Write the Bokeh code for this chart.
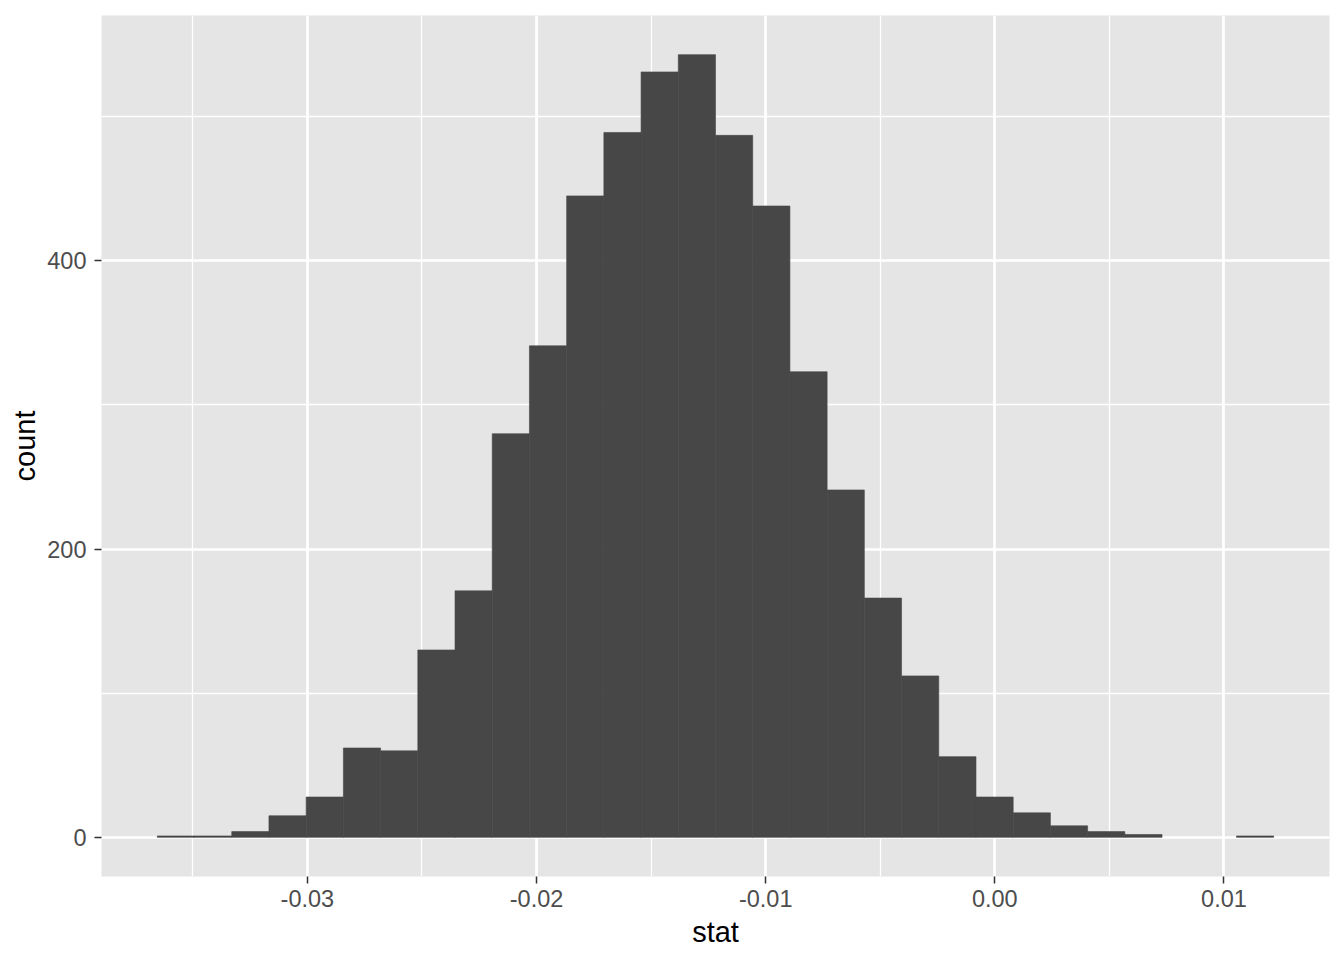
import numpy as np
from bokeh.plotting import figure
from bokeh.models import FixedTicker, Range1d, ColumnDataSource
from bokeh.embed import file_html
from bokeh.resources import INLINE

# Histogram data (30 bins)
bin_start = -0.03655
bin_width = 0.001624
counts = [1, 1, 4, 15, 28, 62, 60, 130, 171, 280,
          341, 445, 489, 531, 543, 487, 438, 323, 241, 166,
          112, 56, 28, 17, 8, 4, 2, 0, 0, 1]

x_ticks = [-0.03, -0.02, -0.01, 0.00, 0.01]
x_tick_labels = ["-0.03", "-0.02", "-0.01", "0.00", "0.01"]
x_minor = [-0.035, -0.025, -0.015, -0.005, 0.005]
y_ticks = [0, 200, 400]
y_minor = [100, 300, 500]

edges = bin_start + bin_width * np.arange(len(counts) + 1)
src = ColumnDataSource(dict(left=edges[:-1], right=edges[1:], top=counts,
                            bottom=[0] * len(counts),
                            lalpha=[1.0 if c > 0 else 0.0 for c in counts]))

xmin, xmax = edges[0], edges[-1]
xpad = (xmax - xmin) * 0.05
ymax = max(counts)
ypad = ymax * 0.05

p = figure(width=1344, height=960, output_backend="svg", toolbar_location=None,
           x_range=Range1d(xmin - xpad, xmax + xpad),
           y_range=Range1d(-ypad, ymax + ypad),
           min_border_left=101, min_border_right=15, min_border_top=15,
           min_border_bottom=84)

p.background_fill_color = "#E5E5E5"
p.border_fill_color = "white"
p.outline_line_color = None

p.quad(left="left", right="right", top="top", bottom="bottom", source=src,
       fill_color="#474747", line_color="#474747", line_width=0.6,
       line_alpha="lalpha")

p.xaxis.ticker = FixedTicker(ticks=x_ticks, minor_ticks=x_minor)
p.xaxis.major_label_overrides = {t: l for t, l in zip(x_ticks, x_tick_labels)}
p.yaxis.ticker = FixedTicker(ticks=y_ticks, minor_ticks=y_minor)

for ax in (p.xaxis[0], p.yaxis[0]):
    ax.axis_line_color = None
    ax.major_tick_in = 0
    ax.major_tick_out = 7
    ax.major_tick_line_color = "#333333"
    ax.major_tick_line_width = 1.5
    ax.minor_tick_line_color = None
    ax.major_label_text_font = "Liberation Sans"
    ax.major_label_text_font_size = "23.5px"
    ax.major_label_text_color = "#4D4D4D"
    ax.axis_label_text_font = "Liberation Sans"
    ax.axis_label_text_font_size = "29px"
    ax.axis_label_text_font_style = "normal"
    ax.axis_label_text_color = "black"

p.xaxis.major_label_standoff = 6
p.yaxis.major_label_standoff = 8
p.xaxis.axis_label = "stat"
p.yaxis.axis_label = "count"
p.xaxis.axis_label_standoff = 6
p.yaxis.axis_label_standoff = 3

for g in (p.xgrid[0], p.ygrid[0]):
    g.grid_line_color = "white"
    g.grid_line_width = 2.7
    g.minor_grid_line_color = "white"
    g.minor_grid_line_width = 1.3

open("out.html", "w").write(file_html(p, INLINE))
